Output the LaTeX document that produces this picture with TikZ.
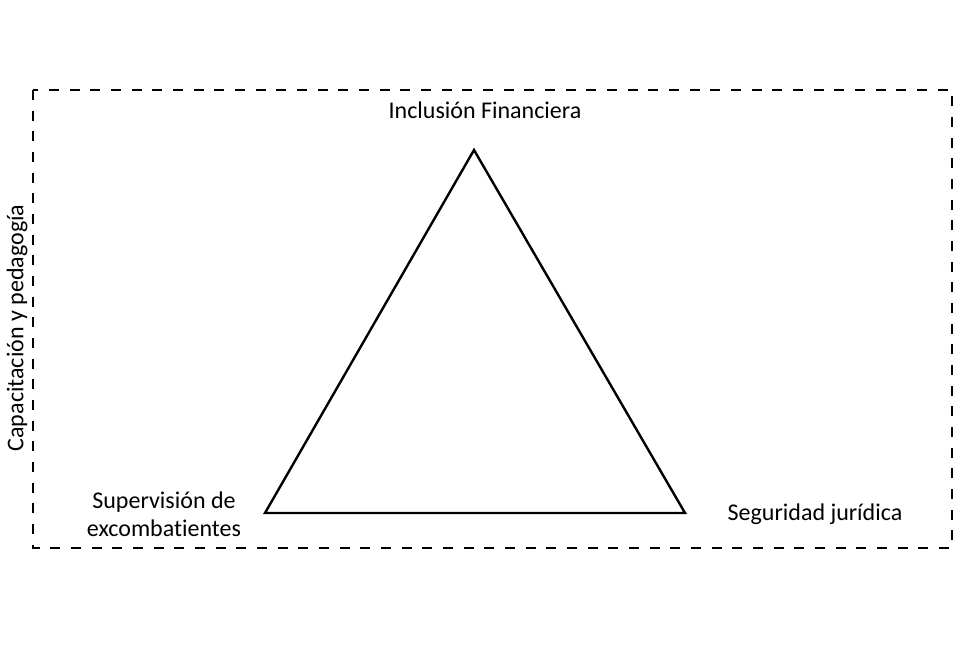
\documentclass[tikz,border=0pt]{standalone}
\usepackage{fontspec}
\setmainfont{Carlito}[Ligatures=NoCommon]
\usepackage{tikz}
\usetikzlibrary{calc}

\begin{document}
\begin{tikzpicture}[x=0.75pt, y=-0.75pt, font=\fontsize{18}{21}\selectfont,
    frame/.style={line width=2.2pt, dash pattern=on 7.5pt off 8pt},
    side/.style={line width=1.8pt, line join=miter}]
        \useasboundingbox (0,0) rectangle (972,648);

        % Define corners of the frame and vertices of the triangle
        \coordinate (F_1) at (33,90);
        \coordinate (F_2) at (952,548);
        \coordinate (T_1) at (474,150);
        \coordinate (T_2) at (265,513);
        \coordinate (T_3) at (685,513);

        % Draw frame
        \draw[frame] (F_1) rectangle (F_2);

        % Draw triangle
        \draw[side] (T_1) -- (T_2) -- (T_3) -- cycle;

        % Add labels
        \node (inclusion) at (485,110) {Inclusión Financiera};
        \node[align=center] (supervision) at (164,514) {Supervisión de\\excombatientes};
        \node (seguridad) at (815,514) {Seguridad jurídica};
        \node[rotate=90] (capacitacion) at (17,328) {Capacitación y pedagogía};

    \end{tikzpicture}
\end{document}
